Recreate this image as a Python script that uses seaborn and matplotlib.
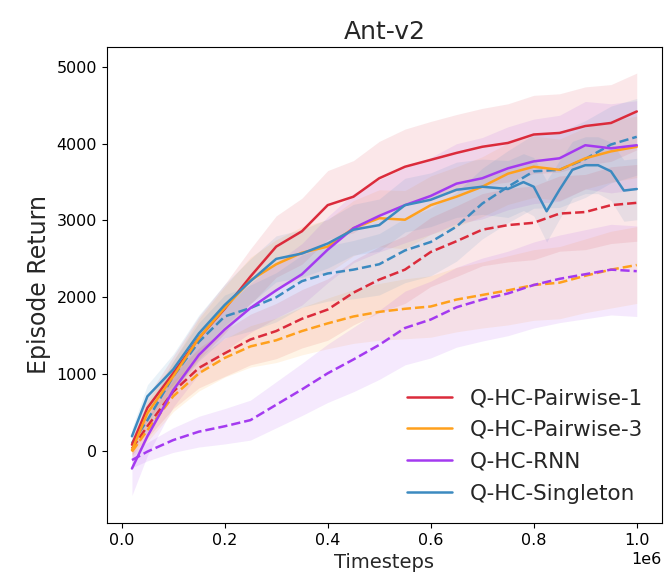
import numpy as np
import pandas as pd
import matplotlib as mpl
mpl.use("Agg")
import matplotlib.pyplot as plt
import seaborn as sns

# timesteps where the curves were logged
steps = [20000, 50000, 100000, 150000, 200000, 250000, 300000, 350000, 400000, 450000, 500000,
         550000, 600000, 650000, 700000, 750000, 800000, 850000, 900000, 950000, 1000000]
steps_singleton = steps[:16] + [780000, 800000, 825000, 850000, 875000, 900000, 925000, 950000, 975000, 1000000]

# solid curves (mean return)
pairwise1 = [80, 560, 1010, 1470, 1850, 2270, 2660, 2860, 3200, 3310, 3550, 3700, 3790, 3880, 3960, 4010, 4120, 4140, 4230, 4270, 4420]
pairwise3 = [10, 490, 970, 1470, 1860, 2220, 2430, 2580, 2660, 2900, 3030, 3010, 3200, 3310, 3440, 3610, 3700, 3660, 3810, 3900, 3960]
rnn = [-230, 190, 790, 1250, 1580, 1860, 2090, 2300, 2620, 2900, 3060, 3200, 3320, 3480, 3550, 3680, 3770, 3810, 3980, 3940, 3980]
singleton = [190, 710, 1060, 1530, 1900, 2210, 2500, 2570, 2700, 2880, 2940, 3200, 3270, 3400, 3440, 3410,
             3500, 3440, 3120, 3400, 3660, 3720, 3720, 3640, 3390, 3410]

# dashed curves
pairwise1_dash = [30, 320, 770, 1080, 1270, 1450, 1560, 1720, 1840, 2060, 2230, 2360, 2590, 2730, 2880, 2940, 2970, 3090, 3110, 3200, 3230]
pairwise3_dash = [-10, 270, 710, 1010, 1210, 1360, 1440, 1560, 1660, 1750, 1810, 1850, 1880, 1970, 2030, 2090, 2160, 2190, 2280, 2360, 2420]
rnn_dash = [-120, -10, 140, 250, 320, 400, 600, 800, 1010, 1190, 1380, 1600, 1710, 1870, 1970, 2050, 2160, 2240, 2300, 2360, 2340]
singleton_dash = [100, 400, 970, 1420, 1750, 1860, 2000, 2210, 2310, 2360, 2430, 2610, 2720, 2920, 3220, 3440, 3640, 3660, 3800, 3990, 4090]

# spread of the shaded bands
pairwise1_sd = [80, 150, 220, 280, 320, 360, 400, 430, 450, 470, 480, 490, 500, 500, 500, 510, 510, 510, 510, 500, 500]
pairwise3_sd = [80, 150, 200, 250, 280, 300, 320, 340, 350, 360, 370, 380, 380, 390, 390, 400, 400, 400, 400, 400, 400]
rnn_sd = [350, 250, 220, 250, 280, 320, 360, 400, 430, 450, 470, 490, 500, 520, 530, 540, 550, 560, 570, 580, 580]
singleton_sd = [100, 150, 200, 240, 270, 290, 300, 310, 320, 330, 340, 350, 350, 360, 360, 370,
                370, 380, 400, 380, 370, 370, 370, 380, 400, 400]
pairwise1_dash_sd = [80, 150, 220, 260, 300, 330, 360, 380, 400, 420, 430, 440, 450, 460, 470, 480, 480, 490, 490, 500, 500]
pairwise3_dash_sd = [80, 150, 200, 230, 250, 270, 290, 310, 330, 350, 370, 390, 400, 420, 430, 450, 460, 470, 480, 500, 500]
rnn_dash_sd = [100, 120, 160, 200, 230, 260, 300, 340, 380, 420, 450, 480, 500, 520, 540, 550, 560, 570, 580, 590, 590]
singleton_dash_sd = [80, 150, 200, 250, 280, 300, 320, 340, 360, 380, 400, 420, 440, 450, 460, 470, 480, 490, 500, 500, 500]

methods = ["Q-HC-Pairwise-1", "Q-HC-Pairwise-3", "Q-HC-RNN", "Q-HC-Singleton"]
colors = ["#DB2B3B", "#FFA01C", "#A43AF0", "#3C8AC0"]

solid = [(steps, pairwise1, pairwise1_sd), (steps, pairwise3, pairwise3_sd),
         (steps, rnn, rnn_sd), (steps_singleton, singleton, singleton_sd)]
dashed = [(steps, pairwise1_dash, pairwise1_dash_sd), (steps, pairwise3_dash, pairwise3_dash_sd),
          (steps, rnn_dash, rnn_dash_sd), (steps, singleton_dash, singleton_dash_sd)]


def to_frame(series):
    rows = []
    for m, (x, y, sd) in zip(methods, series):
        for a, b, s in zip(x, y, sd):
            rows.append({"Timesteps": a, "Return": b, "sd": s, "method": m})
    return pd.DataFrame(rows)


df_solid = to_frame(solid)
df_dash = to_frame(dashed)

sns.set_style("ticks")
plt.rcParams["font.family"] = ["DejaVu Sans"]

fig, ax = plt.subplots(figsize=(6.67, 5.87), dpi=100)
fig.subplots_adjust(left=0.160, right=0.9925, top=0.920, bottom=0.109)

# shaded bands first
for df in (df_solid, df_dash):
    for m, c in zip(methods, colors):
        d = df[df.method == m]
        ax.fill_between(d.Timesteps, d.Return - d.sd, d.Return + d.sd, color=c, alpha=0.11, lw=0)

pal = dict(zip(methods, colors))
sns.lineplot(data=df_dash, x="Timesteps", y="Return", hue="method", palette=pal,
             estimator=None, linewidth=1.8, linestyle="--", legend=False, ax=ax)
sns.lineplot(data=df_solid, x="Timesteps", y="Return", hue="method", palette=pal,
             estimator=None, linewidth=1.8, ax=ax)

sns.move_legend(ax, "lower right", frameon=False, title=None, fontsize=15.5,
                handlelength=2.1, labelspacing=0.55)

ax.set_ylim(-940, 5260)
ax.set_title("Ant-v2", fontsize=18)
ax.set_xlabel("Timesteps", fontsize=14)
ax.set_ylabel("Episode Return", fontsize=17)
ax.tick_params(labelsize=11.5, colors="black")
ax.xaxis.get_offset_text().set_fontsize(11.5)
for s in ax.spines.values():
    s.set_color("black")

plt.savefig("out.png", dpi=100)
